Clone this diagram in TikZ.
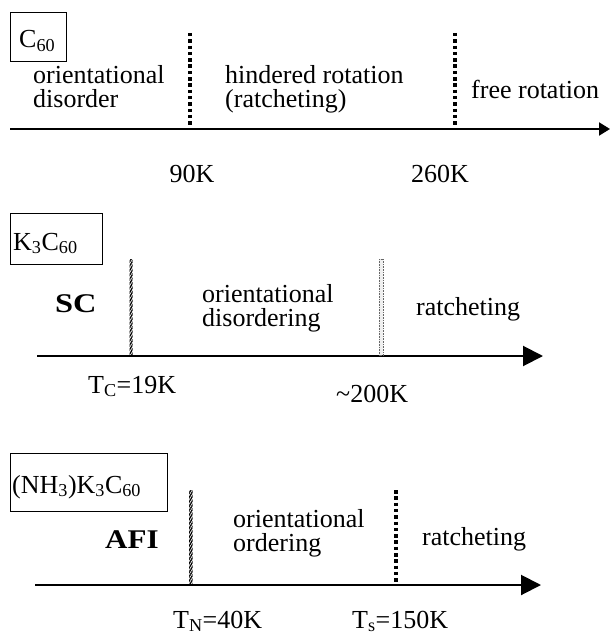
\documentclass[tikz,border=0pt]{standalone}
\usepackage{fontspec}
\setmainfont{Liberation Serif}
\usetikzlibrary{arrows.meta,patterns.meta}

\begin{document}
\begin{tikzpicture}[
    x=1pt, y=-1pt,
    txt/.style={font=\fontsize{26}{24}\selectfont, inner sep=0pt, align=left},
    phase/.style={txt, font=\fontsize{27}{24}\selectfont\bfseries},
    lbl/.style={draw, line width=1pt, inner sep=0pt},
    axis/.style={line width=2pt},
    dotline/.style={line width=4pt, dash pattern=on 3.5pt off 2.8pt},
    hatch/.style={pattern={Lines[angle=60,distance=2.2pt,line width=1.3pt]}},
    stipple/.style={draw=black!60, densely dotted, line width=0.6pt, pattern={Dots[distance=2pt,radius=0.45pt]}, pattern color=black!70},
]
\useasboundingbox (0,0) rectangle (610,636);

% C60
\node[lbl, minimum width=56pt, minimum height=49pt, anchor=north west] (boxA) at (10,12) {};
\node[txt, anchor=base west] (nameA) at (19,48) {C\textsubscript{60}};
\node[txt, anchor=base west] (disA) at (33,108) {orientational\\disorder};
\node[txt, anchor=base west] (hinA) at (225,108) {hindered rotation\\(ratcheting)};
\node[txt, anchor=base west] (freeA) at (471,99) {free rotation};
\node[txt, anchor=base] (tA1) at (192,183) {90K};
\node[txt, anchor=base] (tA2) at (440,183) {260K};
\coordinate (axA0) at (10,129);
\coordinate (axA1) at (610,129);
\draw[axis, -{Triangle[length=11pt,width=13pt]}] (axA0) -- (axA1);
\draw[dotline] (190,33) -- (190,126);
\draw[dotline] (455,33) -- (455,126);

% K3C60
\node[lbl, minimum width=92pt, minimum height=51pt, anchor=north west] (boxB) at (10,213) {};
\node[txt, anchor=base west] (nameB) at (13,250) {K\textsubscript{3}C\textsubscript{60}};
\node[phase, anchor=base west] (scB) at (55,312) {\scalebox{1.2}[1]{SC}};
\node[txt, anchor=base west] (disB) at (202,326) {orientational\\disordering};
\node[txt, anchor=base west] (ratB) at (416,315) {ratcheting};
\node[txt, anchor=base west] (tB1) at (88,393) {T\textsubscript{C}=19K};
\node[txt, anchor=base west] (tB2) at (336,402) {\char`~200K};
\coordinate (axB0) at (37,356);
\coordinate (axB1) at (543,356);
\draw[axis, -{Triangle[length=20pt,width=20pt]}] (axB0) -- (axB1);
\fill[hatch] (129.5,259) rectangle (132.5,355);
\filldraw[stipple] (379.5,259) rectangle (383.5,355);

% (NH3)K3C60
\node[lbl, minimum width=157pt, minimum height=58pt, anchor=north west] (boxC) at (10,453) {};
\node[txt, anchor=base west] (nameC) at (12,493) {(NH\textsubscript{3})K\textsubscript{3}C\textsubscript{60}};
\node[phase, anchor=base west] (afiC) at (105,548) {\scalebox{1.15}[1]{AFI}};
\node[txt, anchor=base west] (ordC) at (233,551) {orientational\\ordering};
\node[txt, anchor=base west] (ratC) at (422,545) {ratcheting};
\node[txt, anchor=base west] (tC1) at (173,628) {T\textsubscript{N}=40K};
\node[txt, anchor=base west] (tC2) at (352,628) {T\textsubscript{s}=150K};
\coordinate (axC0) at (35,585);
\coordinate (axC1) at (541,585);
\draw[axis, -{Triangle[length=20pt,width=20pt]}] (axC0) -- (axC1);
\fill[hatch] (189,490) rectangle (192.5,584);
\draw[dotline] (396,490) -- (396,583);

\end{tikzpicture}
\end{document}
